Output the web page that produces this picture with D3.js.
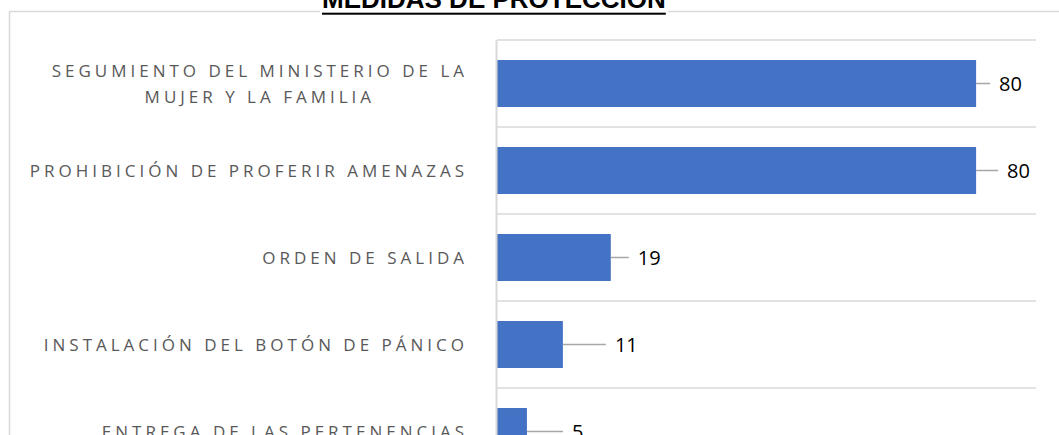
<!DOCTYPE html>
<html>
<head>
<meta charset="utf-8">
<script src="https://cdn.jsdelivr.net/npm/d3@7"></script>
<style>
  body { margin: 0; background: #fff; }
</style>
</head>
<body>
<div id="chart"></div>
<script>
// data
const categories = [
    "SEGUMIENTO DEL MINISTERIO DE LA MUJER Y LA FAMILIA",
    "PROHIBICIÓN DE PROFERIR AMENAZAS",
    "ORDEN DE SALIDA",
    "INSTALACIÓN DEL BOTÓN DE PÁNICO",
    "ENTREGA DE LAS PERTENENCIAS"
];
const values = [80, 80, 19, 11, 5];
const title = "MEDIDAS DE PROTECCIÓN";

// leader line length for each data label (px), labels were dragged by hand
const leaderLen = [14, 22, 18, 43, 36];

const width = 1059, height = 435;

const svg = d3.select("#chart")
    .append("svg")
    .attr("width", width)
    .attr("height", height);

// chart frame
svg.append("path")
    .attr("d", "M9.5," + (height + 2) + "V11.5H" + (width + 2))
    .attr("fill", "none")
    .attr("stroke", "#d9d9d9")
    .attr("stroke-width", 1.5);

// scales
const x = d3.scaleLinear()
    .domain([0, 90])
    .range([497, 1036]);

const y = d3.scaleBand()
    .domain(categories)
    .range([40, 475])
    .paddingInner(0.46)
    .paddingOuter(0.23);

const step = y.step();
const gap = step * y.paddingInner() / 2;

// horizontal gridlines between categories
svg.append("g")
    .selectAll("line")
    .data(categories)
    .enter()
    .append("line")
    .attr("x1", x(0))
    .attr("x2", x(90))
    .attr("y1", d => y(d) - gap)
    .attr("y2", d => y(d) - gap)
    .attr("stroke", "#d9d9d9")
    .attr("stroke-width", 1.5);

// bars
svg.append("g")
    .selectAll("rect")
    .data(values)
    .enter()
    .append("rect")
    .attr("x", x(0))
    .attr("y", (d, i) => y(categories[i]))
    .attr("width", d => x(d) - x(0))
    .attr("height", y.bandwidth())
    .attr("fill", "#4472c4");

// vertical axis line
svg.append("line")
    .attr("x1", x(0) - 0.5)
    .attr("x2", x(0) - 0.5)
    .attr("y1", y(categories[0]) - gap)
    .attr("y2", height + 2)
    .attr("stroke", "#d9d9d9")
    .attr("stroke-width", 2);

// data labels with leader lines
const lbl = svg.append("g");
values.forEach((v, i) => {
    const cy = y(categories[i]) + y.bandwidth() / 2;
    lbl.append("line")
        .attr("x1", x(v))
        .attr("x2", x(v) + leaderLen[i])
        .attr("y1", cy)
        .attr("y2", cy)
        .attr("stroke", "#a6a6a6")
        .attr("stroke-width", 1.5);
    lbl.append("text")
        .attr("x", x(v) + leaderLen[i] + 9)
        .attr("y", cy + 7.5)
        .attr("font-family", "'Open Sans', sans-serif")
        .attr("font-size", 20)
        .attr("fill", "#000")
        .text(v);
});

// category labels, wrapped and centred inside a right-aligned block
const labelRight = 468, maxW = 450, lineH = 26;
const cats = svg.append("g")
    .attr("font-family", "'Open Sans', sans-serif")
    .attr("font-size", 17)
    .attr("letter-spacing", "4px")
    .attr("fill", "#595959");

function measure(str) {
    const t = cats.append("text").text(str);
    const w = t.node().getComputedTextLength();
    t.remove();
    return w;
}

categories.forEach(c => {
    const words = c.split(" ");
    const lines = [];
    let cur = "";
    words.forEach(w => {
        const test = cur ? cur + " " + w : w;
        if (cur && measure(test) > maxW) {
            lines.push(cur);
            cur = w;
        } else {
            cur = test;
        }
    });
    lines.push(cur);
    const widths = lines.map(measure);
    const blockW = d3.max(widths);
    const cx = labelRight - blockW / 2;
    const cy = y(c) + y.bandwidth() / 2;
    lines.forEach((ln, j) => {
        cats.append("text")
            .attr("x", cx)
            .attr("y", cy + (j - (lines.length - 1) / 2) * lineH + 6)
            .attr("text-anchor", "middle")
            .text(ln);
    });
});

// title, cut at the top of the picture
const tg = svg.append("g");
const tt = tg.append("text")
    .attr("x", 322)
    .attr("y", 8)
    .attr("font-family", "'Liberation Sans', Arial, sans-serif")
    .attr("font-weight", "bold")
    .attr("font-size", 26)
    .attr("fill", "#000")
    .text(title);
const tw = tt.node().getComputedTextLength();
tg.insert("rect", "text")
    .attr("x", 320)
    .attr("y", 0)
    .attr("width", tw + 4)
    .attr("height", 13)
    .attr("fill", "#fff");
tg.append("rect")
    .attr("x", 322)
    .attr("y", 12.7)
    .attr("width", tw)
    .attr("height", 2)
    .attr("fill", "#000");
</script>
</body>
</html>
